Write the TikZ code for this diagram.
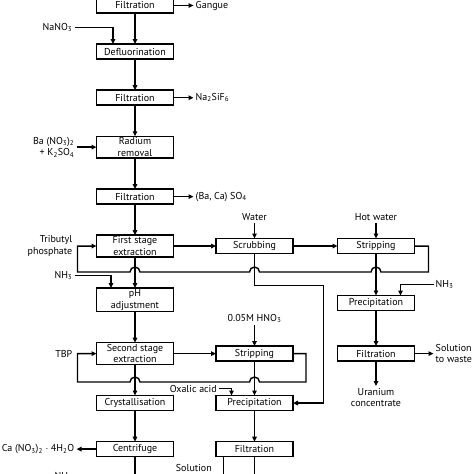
\documentclass[tikz,border=0pt]{standalone}
\usepackage{fontspec}
\setmainfont{PT Sans}
\usetikzlibrary{arrows.meta,positioning,calc}
\tikzset{
  procbox/.style={draw, line width=1.5pt, outer sep=0pt, minimum width=77pt,
    minimum height=15pt, inner xsep=2pt, inner ysep=1.5pt, align=center,
    font=\fontsize{10}{11.5}\selectfont},
  lbl/.style={inner sep=2pt, font=\fontsize{10}{11.5}\selectfont},
  arrw/.style={-{Triangle[length=5pt, width=4.5pt]}, line width=1.4pt},
  flow/.style={line width=1.4pt},
}
\newcommand{\sbs}[1]{\textsubscript{#1}}

\begin{document}
\begin{tikzpicture}[x=1pt, y=1pt, node distance=31.1pt and 42.5pt]
  \useasboundingbox (0,0) rectangle (474,-474);

  % left column
  \node[procbox] (filt1) at (135,-5.5) {Filtration};
  \node[procbox, below=of filt1] (defluor) {Defluorination};
  \node[procbox, below=of defluor] (filt2) {Filtration};
  \node[procbox, below=of filt2] (radium) {Radium\\removal};
  \node[procbox, below=of radium] (filt3) {Filtration};
  \node[procbox, below=of filt3] (first) {First stage\\extraction};
  \node[procbox, below=of first] (ph) {pH\\adjustment};
  \node[procbox, below=of ph] (second) {Second stage\\extraction};
  \node[procbox, below=of second] (cryst) {Crystallisation};
  \node[procbox, below=of cryst] (centri) {Centrifuge};

  % middle column
  \node[procbox, right=of first] (scrub) {Scrubbing};
  \node[procbox, right=of second] (strip2) {Stripping};
  \node[procbox, right=of cryst] (precip2) {Precipitation};
  \node[procbox, right=of centri] (filt5) {Filtration};

  % right column
  \node[procbox, right=44.5pt of scrub] (strip1) {Stripping};
  \node[procbox, below=42pt of strip1] (precip1) {Precipitation};
  \node[procbox, right=44.5pt of strip2] (filt4) {Filtration};

  % inputs and outputs
  \node[lbl, right=20pt of filt1] (gangue) {Gangue};
  \node[lbl, left=22pt of defluor, yshift=24pt] (nano) {NaNO\sbs{3}};
  \node[lbl, right=20pt of filt2] (nasif) {Na\sbs{2}SiF\sbs{6}};
  \node[lbl, align=right, left=20pt of radium] (bano)
    {Ba (NO\sbs{3})\sbs{2}\\+ K\sbs{2}SO\sbs{4}};
  \node[lbl, right=20pt of filt3] (baca) {(Ba, Ca) SO\sbs{4}};
  \node[lbl, align=right, left=22pt of first] (tbutyl) {Tributyl\\phosphate};
  \node[lbl, left=22pt of ph, yshift=24.5pt] (nha) {NH\sbs{3}};
  \node[lbl, left=22pt of second] (tbp) {TBP};
  \node[lbl, left=20pt of centri] (canit) {Ca (NO\sbs{3})\sbs{2} $\cdot$ 4H\sbs{2}O};
  \node[lbl, left=22pt of centri, yshift=-28pt] (nhc) {NH\sbs{3}};
  \node[lbl, above=16pt of scrub] (water) {Water};
  \node[lbl, above=16pt of strip1] (hotw) {Hot water};
  \node[lbl, above=21pt of strip2] (hno) {0.05M HNO\sbs{3}};
  \node[lbl, anchor=east] (oxalic) at ($(precip2.north west)+(3pt,7pt)$)
    {Oxalic acid};
  \node[lbl, anchor=east] (soln) at ($(filt5.south west)+(-2pt,-11pt)$)
    {Solution};
  \node[lbl, right=19pt of precip1, yshift=18.5pt] (nhb) {NH\sbs{3}};
  \node[lbl, align=left, right=19pt of filt4] (waste) {Solution\\to waste};
  \node[lbl, align=center, below=25pt of filt4] (uran) {Uranium\\concentrate};

  \coordinate (rcA) at (0,-272);
  \coordinate (rcB) at (0,-382);

  % main chain
  \draw[arrw] (filt1) -- (defluor);
  \draw[arrw] (defluor) -- (filt2);
  \draw[arrw] (filt2) -- (radium);
  \draw[arrw] (radium) -- (filt3);
  \draw[arrw] (filt3) -- (first);
  \draw[arrw] (first) -- (ph);
  \draw[arrw] (ph) -- (second);
  \draw[arrw] (second) -- (cryst);
  \draw[arrw] (cryst) -- (centri);
  \draw[arrw] (first) -- (scrub);
  \draw[arrw] (scrub) -- (strip1);
  \draw[arrw] (strip1) -- (precip1);
  \draw[arrw] (precip1) -- (filt4);
  \draw[arrw] (second) -- (strip2);
  \draw[arrw] (strip2) -- (precip2);
  \draw[arrw] (precip2) -- (filt5);

  % side streams
  \draw[arrw] (filt1) -- (gangue);
  \draw[arrw] (filt2) -- (nasif);
  \draw[arrw] (filt3) -- (baca);
  \draw[arrw] (bano) -- (radium);
  \draw[arrw] (nano.east) -| ([xshift=-22pt]defluor.north);
  \draw[arrw] (nha.east) -| ([xshift=-24pt]ph.north);
  \draw[arrw] (centri) -- (canit);
  \draw[arrw] (water) -- (scrub);
  \draw[arrw] (hotw) -- (strip1);
  \draw[arrw] (hno) -- (strip2);
  \draw[arrw] (oxalic.east) -| ([xshift=-23pt]precip2.north);
  \draw[arrw] (nhb.west) -| ([xshift=24.5pt]precip1.north);
  \draw[arrw] (filt4) -- (waste);
  \draw[arrw] (filt4) -- (uran);
  \draw[arrw] (scrub.south) -- ++(0,-32pt) -- ++(69pt,0) |- (precip2.east);

  % solvent recycle
  \draw[arrw] (strip1.east) -- ++(14pt,0)
    |- ($(strip1.south |- rcA)+(5pt,0)$) arc[start angle=0, end angle=180, radius=5pt]
    -- ($(scrub.south |- rcA)+(5pt,0)$) arc[start angle=0, end angle=180, radius=5pt]
    -- ($(first.south |- rcA)+(5pt,0)$) arc[start angle=0, end angle=180, radius=5pt]
    -- ($(first.west |- rcA)+(-19pt,0)$) |- (first.west);
  \draw[arrw] (strip2.east) -- ++(13pt,0)
    |- ($(strip2.south |- rcB)+(5pt,0)$) arc[start angle=0, end angle=180, radius=5pt]
    -- ($(second.south |- rcB)+(5pt,0)$) arc[start angle=0, end angle=180, radius=5pt]
    -- ($(second.west |- rcB)+(-19pt,0)$) |- (second.west);

  % streams leaving the picture
  \draw[flow] (centri.south) -- ++(0,-25pt);
  \draw[flow] (filt5.south) -- ++(0,-25pt);
  \draw[flow] ([xshift=-31pt]filt5.south) -- ++(0,-25pt);
\end{tikzpicture}
\end{document}
